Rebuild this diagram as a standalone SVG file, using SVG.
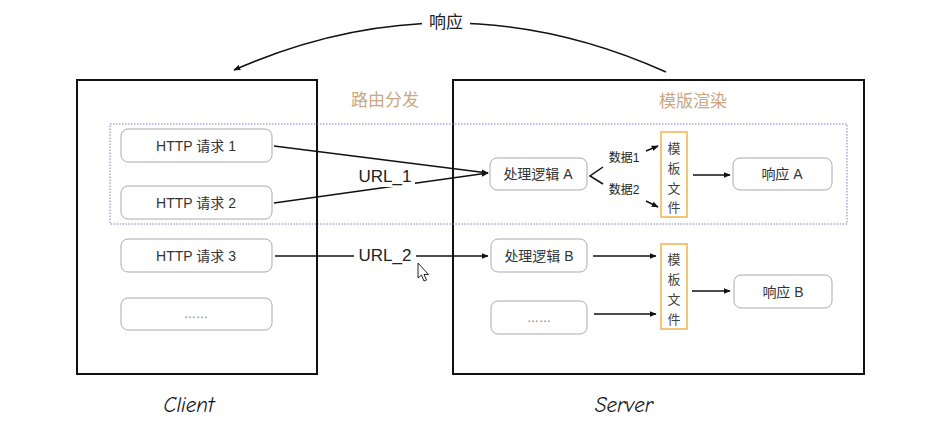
<svg xmlns="http://www.w3.org/2000/svg" width="937" height="431" viewBox="0 0 937 431">
<defs>
<style>
.frame{fill:none;stroke:#111;stroke-width:2}
.node rect{fill:#fff;stroke:#aaa;stroke-width:1}
.node text{font-family:"Liberation Sans","Noto Sans CJK SC",sans-serif;font-size:14px;fill:#333;text-anchor:middle;dominant-baseline:central}
.node text.dots{fill:#777;font-size:12px}
.tpl rect{fill:#fff;stroke:#f0b24a;stroke-width:1.5}
.tpl text{font-family:"Noto Sans CJK SC",sans-serif;font-size:13px;fill:#444;text-anchor:middle;dominant-baseline:central}
.edge{fill:none;stroke:#111;stroke-width:1.5}
.lbl{font-family:"Liberation Sans","Noto Sans CJK SC",sans-serif;fill:#222;text-anchor:middle;dominant-baseline:central}
.sec{font-family:"Noto Sans CJK SC",sans-serif;font-size:17px;fill:#c9a784;text-anchor:middle;dominant-baseline:central}
.hand{font-family:"Comic Sans MS","Comic Neue",cursive;font-size:21px;font-style:italic;fill:#111;text-anchor:middle}
</style>
<marker id="ah" viewBox="0 0 10 10" refX="9" refY="5" markerWidth="7" markerHeight="7" orient="auto-start-reverse" markerUnits="userSpaceOnUse">
<path d="M0 1 L10 5 L0 9 z" fill="#111"/>
</marker>
</defs>
<rect width="937" height="431" fill="#fff"/>

<g id="client-frame"><rect class="frame" x="77" y="80" width="240" height="294"/></g>
<g id="server-frame"><rect class="frame" x="453" y="80" width="411" height="294"/></g>
<rect id="group-a" x="110" y="124" width="737" height="100" fill="none" stroke="#7a78c8" stroke-width="1" stroke-dasharray="1.5 1.5"/>

<text class="sec" x="385" y="98">路由分发</text>
<text class="sec" x="693" y="99">模版渲染</text>
<text class="hand" x="189" y="412">Client</text>
<text class="hand" x="624" y="412">Server</text>

<g id="connectors">
<path class="edge" d="M666 72 Q450 -25 234 70" marker-end="url(#ah)"/>
<rect x="422" y="12" width="48" height="22" fill="#fff"/>
<text class="lbl" x="446" y="22" font-size="17" font-family="Noto Sans CJK SC, sans-serif">响应</text>

<line class="edge" x1="274" y1="146" x2="488" y2="173" marker-end="url(#ah)"/>
<line class="edge" x1="274" y1="203" x2="488" y2="173" marker-end="url(#ah)"/>
<rect x="355" y="166" width="60" height="21" fill="#fff"/>
<text class="lbl" x="385" y="176" font-size="17">URL_1</text>

<line class="edge" x1="275" y1="256" x2="488" y2="256" marker-end="url(#ah)"/>
<rect x="354" y="245" width="62" height="22" fill="#fff"/>
<text class="lbl" x="385" y="255" font-size="17">URL_2</text>

<polyline class="edge" points="603,167 590,176 603,184"/>
<text class="lbl" x="624" y="158" font-size="12" font-family="Noto Sans CJK SC, sans-serif">数据1</text>
<text class="lbl" x="624" y="190" font-size="12" font-family="Noto Sans CJK SC, sans-serif">数据2</text>
<line class="edge" x1="646" y1="151" x2="658" y2="146" marker-end="url(#ah)"/>
<line class="edge" x1="646" y1="201" x2="658" y2="207" marker-end="url(#ah)"/>
<line class="edge" x1="693" y1="175" x2="730" y2="175" marker-end="url(#ah)"/>

<line class="edge" x1="593" y1="256" x2="656" y2="256" marker-end="url(#ah)"/>
<line class="edge" x1="594" y1="314" x2="656" y2="314" marker-end="url(#ah)"/>
<line class="edge" x1="692" y1="291" x2="730" y2="291" marker-end="url(#ah)"/>
</g>

<g id="http1" class="node"><rect x="121" y="129" width="151" height="33" rx="7"/><text x="196" y="146">HTTP 请求 1</text></g>
<g id="http2" class="node"><rect x="121" y="186" width="151" height="33" rx="7"/><text x="196" y="203">HTTP 请求 2</text></g>
<g id="http3" class="node"><rect x="121" y="239" width="151" height="33" rx="7"/><text x="196" y="256">HTTP 请求 3</text></g>
<g id="http-more" class="node"><rect x="121" y="298" width="151" height="32" rx="7"/><text class="dots" x="196" y="314">……</text></g>

<g id="logic-a" class="node"><rect x="490" y="158" width="97" height="32" rx="7"/><text x="538" y="174" font-size="15">处理逻辑 A</text></g>
<g id="logic-b" class="node"><rect x="491" y="239" width="96" height="33" rx="7"/><text x="539" y="256">处理逻辑 B</text></g>
<g id="logic-more" class="node"><rect x="491" y="301" width="96" height="33" rx="7"/><text class="dots" x="539" y="318">……</text></g>

<g id="tpl-a" class="tpl"><rect x="661" y="132" width="26" height="85"/>
<text x="674" y="147">模</text><text x="674" y="167">板</text><text x="674" y="187">文</text><text x="674" y="206">件</text></g>
<g id="tpl-b" class="tpl"><rect x="661" y="244" width="26" height="85"/>
<text x="674" y="258">模</text><text x="674" y="278">板</text><text x="674" y="298">文</text><text x="674" y="318">件</text></g>

<g id="resp-a" class="node"><rect x="733" y="158" width="99" height="32" rx="7"/><text x="782" y="174">响应 A</text></g>
<g id="resp-b" class="node"><rect x="734" y="275" width="98" height="33" rx="7"/><text x="783" y="292">响应 B</text></g>

<polygon points="418,263 418,278 421.5,275 424,281 426.5,280 424,274.5 428.5,274.5" fill="#fff" stroke="#222" stroke-width="1"/>
</svg>
